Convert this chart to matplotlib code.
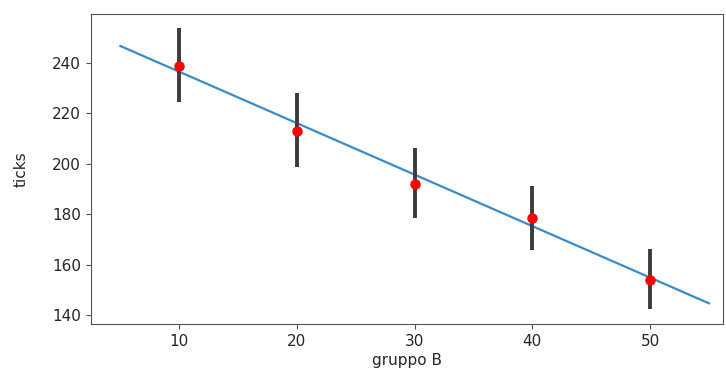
import matplotlib
matplotlib.use("Agg")
import matplotlib.pyplot as plt
import numpy as np

# group values and the mean / confidence interval
gruppo_b = [10, 20, 30, 40, 50]
ticks_mean = [238.8, 213.0, 192.0, 178.5, 153.9]
ci_low = [224.5, 198.7, 178.5, 165.8, 142.4]
ci_high = [253.9, 228.1, 206.3, 191.2, 166.2]

# fitted line end points
fit_x = [5, 55]
fit_y = [246.7, 144.6]

fig = plt.figure(figsize=(7.26, 3.68), dpi=100)
ax = fig.add_axes([0.1253, 0.1196, 0.8706, 0.8424])

ax.plot(fit_x, fit_y, color="#3a8cc6", lw=1.6, zorder=2)

mean = np.array(ticks_mean)
yerr = [mean - np.array(ci_low), np.array(ci_high) - mean]
ax.errorbar(gruppo_b, mean, yerr=yerr, fmt="none", ecolor="#3c3c3c",
            elinewidth=2.8, zorder=3)
ax.plot(gruppo_b, mean, "o", color="red", ms=6.5, zorder=4)

ax.set_xlim(2.5, 56.2)
ax.set_ylim(136.4, 259.4)
ax.set_yticks([140, 160, 180, 200, 220, 240])
ax.set_xticks([10, 20, 30, 40, 50])

ax.set_xlabel("gruppo B", fontsize=11, color="#262626", labelpad=3)
ax.set_ylabel("ticks", fontsize=11, color="#262626", labelpad=17)
ax.tick_params(labelsize=11, labelcolor="#262626", color="#555555")
for s in ax.spines.values():
    s.set_color("#555555")

fig.savefig("out.png", dpi=100)
